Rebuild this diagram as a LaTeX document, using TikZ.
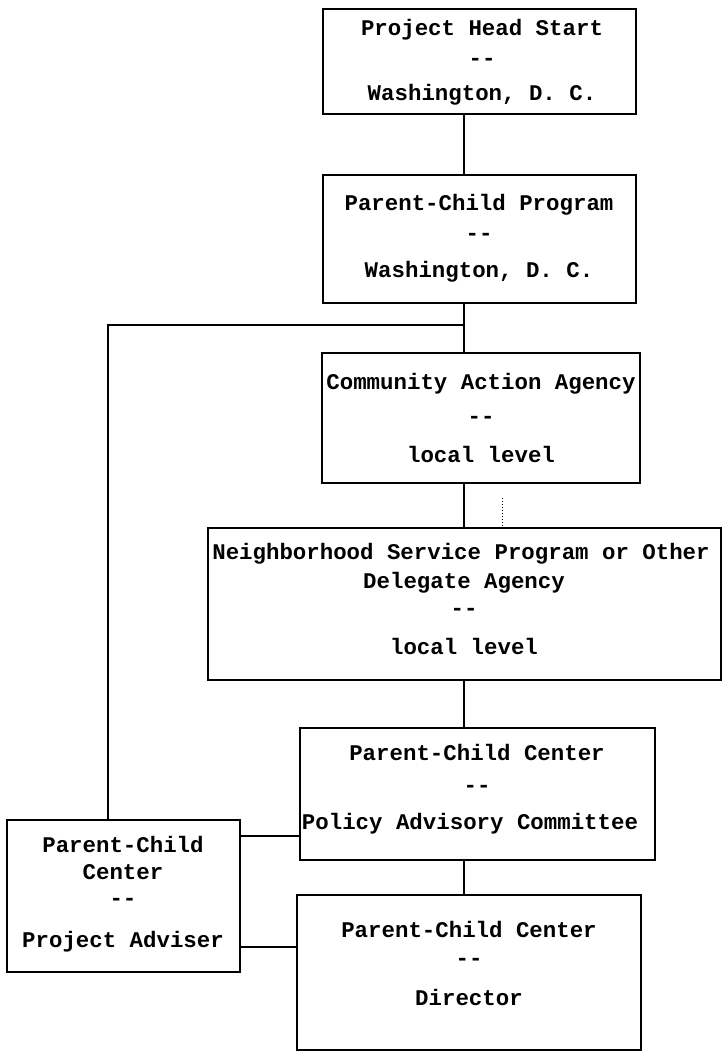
\documentclass[tikz,border=0pt]{standalone}
\usepackage{fontspec}
\newfontfamily\tw{Liberation Mono}
\begin{document}
\begin{tikzpicture}[x=1pt,y=-1pt,
  box/.style={draw=black, line width=1.7pt, rectangle, inner sep=0pt},
  txt/.style={font=\tw\fontsize{22.4}{26}\selectfont\bfseries, anchor=mid, inner sep=0pt},
  link/.style={draw=black, line width=2.8pt},
  thinlink/.style={draw=black, line width=1.8pt}]
\useasboundingbox[fill=white] (0,0) rectangle (723,1054);
% boxes
\node[box, minimum width=313, minimum height=105] (b1) at (479.5,61.5) {};
\node[box, minimum width=313, minimum height=128] (b2) at (479.5,239) {};
\node[box, minimum width=318, minimum height=130] (b3) at (481,418) {};
\node[box, minimum width=513, minimum height=152] (b4) at (464.5,604) {};
\node[box, minimum width=355, minimum height=132] (b5) at (477.5,794) {};
\node[box, minimum width=344, minimum height=155] (b6) at (469,972.5) {};
\node[box, minimum width=233, minimum height=152] (b7) at (123.5,896) {};
% texts
\node[txt] (t1a) at (482,33) {Project Head Start};
\node[txt] (t1b) at (482,63) {-{}-};
\node[txt] (t1c) at (482,98) {Washington, D. C.};
\node[txt] (t2a) at (479,208) {Parent-Child Program};
\node[txt] (t2b) at (479,238) {-{}-};
\node[txt] (t2c) at (479,275) {Washington, D. C.};
\node[txt] (t3a) at (481,387) {Community Action Agency};
\node[txt] (t3b) at (481,421) {-{}-};
\node[txt] (t3c) at (481,460) {local level};
\node[txt] (t4a) at (461,557) {Neighborhood Service Program or Other};
\node[txt] (t4b) at (464,586) {Delegate Agency};
\node[txt] (t4c) at (464,613) {-{}-};
\node[txt] (t4d) at (464,652) {local level};
\node[txt] (t5a) at (477,758) {Parent-Child Center};
\node[txt] (t5b) at (477,790) {-{}-};
\node[txt] (t5c) at (470,827) {Policy Advisory Committee};
\node[txt] (t6a) at (469,935) {Parent-Child Center};
\node[txt] (t6b) at (469,963) {-{}-};
\node[txt] (t6c) at (469,1003) {Director};
\node[txt] (t7a) at (123,850) {Parent-Child};
\node[txt] (t7b) at (123,877) {Center};
\node[txt] (t7c) at (123,903) {-{}-};
\node[txt] (t7d) at (123,945) {Project Adviser};
% helper coordinates
\coordinate (spine) at (464,0);
\coordinate (vl) at (108,0);
\coordinate (junc) at (464,325);
\coordinate (h1) at (0,836);
\coordinate (h2) at (0,947);
\coordinate (dot) at (502,0);
% connectors
\draw[link] (b1.south -| spine) -- (b2.north -| spine);
\draw[link] (b2.south -| spine) -- (b3.north -| spine);
\draw[thinlink] (junc) -- (junc -| vl) -- (b7.north -| vl);
\draw[link] (b3.south -| spine) -- (b4.north -| spine);
\draw[link] (b4.south -| spine) -- (b5.north -| spine);
\draw[link] (b5.south -| spine) -- (b6.north -| spine);
\draw[thinlink] (b7.east |- h1) -- (b5.west |- h1);
\draw[link] (b7.east |- h2) -- (b6.west |- h2);
\draw[line width=1pt, dotted] ([yshift=-14pt]b3.south -| dot) -- (b4.north -| dot);
\end{tikzpicture}
\end{document}
